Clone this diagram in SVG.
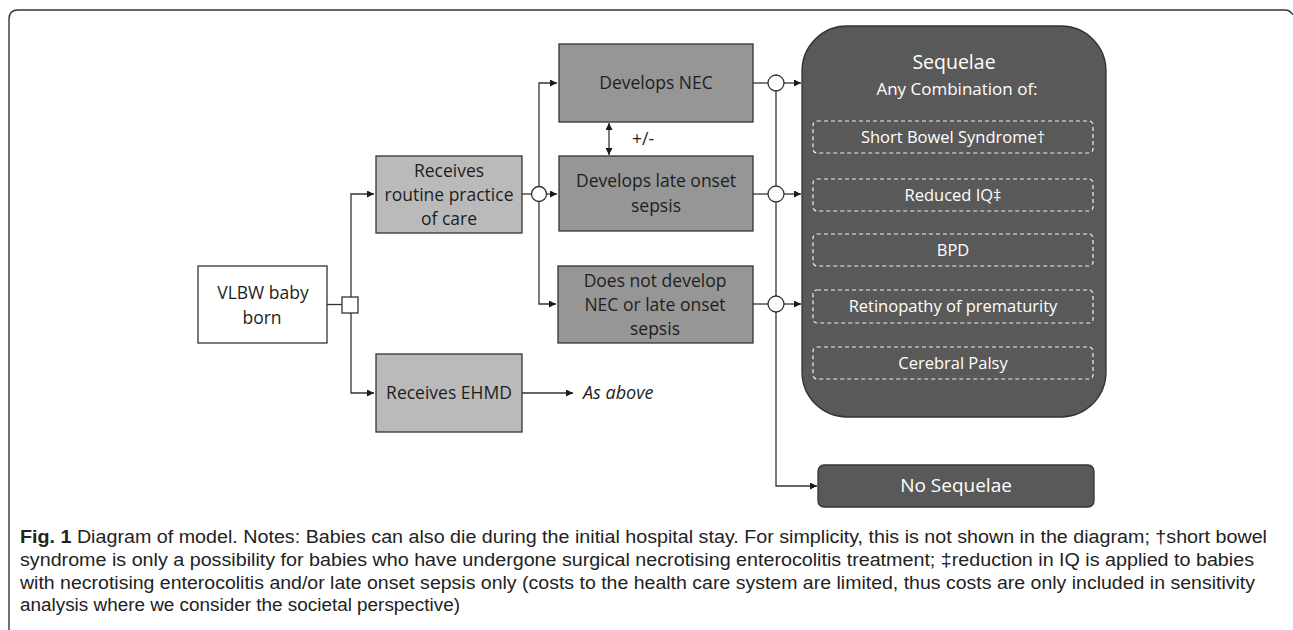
<svg xmlns="http://www.w3.org/2000/svg" width="1293" height="630" viewBox="0 0 1293 630">
<defs>
<marker id="ah" viewBox="0 0 10 10" refX="10" refY="5" markerWidth="7" markerHeight="7" markerUnits="userSpaceOnUse" orient="auto-start-reverse">
<path d="M0,0 L10,5 L0,10 z" fill="#1a1a1a"/>
</marker>
<style>
.t{font-family:"Open Sans","Liberation Sans",sans-serif;font-size:17.5px;fill:#1e1e1e;text-anchor:middle;dominant-baseline:central}
.w{font-family:"Open Sans","Liberation Sans",sans-serif;fill:#ffffff;text-anchor:middle;dominant-baseline:central}
.d{font-size:16.5px}
.c{font-family:"Liberation Sans",sans-serif;font-size:17.5px;fill:#222}
.ln{fill:none;stroke:#333;stroke-width:1.3}
.b{stroke:#333;stroke-width:1.3}
.light{fill:#bababa}
.dark{fill:#969696}
.dash{fill:none;stroke:#f0f0f0;stroke-width:1.2;stroke-dasharray:4 3}
.circ{fill:#fff;stroke:#333;stroke-width:1.3}
</style>
</defs>
<rect width="1293" height="630" fill="#fff"/>
<path d="M9,630 L9,19 Q9,10 18,10 L1285,10 Q1290,10 1293,15" fill="none" stroke="#333" stroke-width="1.4"/>

<g id="connectors">
<path class="ln" d="M327,304.5 H342"/>
<path class="ln" d="M351,297 V194 H374" marker-end="url(#ah)"/>
<path class="ln" d="M351,312 V393 H374" marker-end="url(#ah)"/>
<path class="ln" d="M522,194 H531.5"/>
<path class="ln" d="M546.5,194 H557" marker-end="url(#ah)"/>
<path class="ln" d="M539,186.5 V83 H557" marker-end="url(#ah)"/>
<path class="ln" d="M539,201.5 V304 H556" marker-end="url(#ah)"/>
<path class="ln" d="M522,393 H573" marker-end="url(#ah)"/>
<path class="ln" d="M609,123 V155" marker-start="url(#ah)" marker-end="url(#ah)"/>
<path class="ln" d="M753,83 H768"/>
<path class="ln" d="M753,194 H768"/>
<path class="ln" d="M753,304 H768"/>
<path class="ln" d="M784,83 H801" marker-end="url(#ah)"/>
<path class="ln" d="M784,194 H801" marker-end="url(#ah)"/>
<path class="ln" d="M784,304 H801" marker-end="url(#ah)"/>
<path class="ln" d="M776,91 V186 M776,202 V296 M776,312 V486 H817" marker-end="url(#ah)"/>
</g>

<g id="chance-square"><rect x="342" y="297" width="16" height="16" fill="#fff" class="b"/></g>
<g id="chance1"><circle cx="539" cy="194" r="7.5" class="circ"/></g>
<g id="chance2"><circle cx="776" cy="83" r="8" class="circ"/></g>
<g id="chance3"><circle cx="776" cy="194" r="8" class="circ"/></g>
<g id="chance4"><circle cx="776" cy="304" r="8" class="circ"/></g>

<g id="vlbw">
<rect x="198" y="266" width="129" height="77" fill="#fff" class="b"/>
<text class="t" x="263" y="292">VLBW baby</text>
<text class="t" x="262" y="317">born</text>
</g>
<g id="routine">
<rect x="376" y="156" width="146" height="77" class="light b"/>
<text class="t" x="449" y="170">Receives</text>
<text class="t" x="449" y="194">routine practice</text>
<text class="t" x="449" y="218">of care</text>
</g>
<g id="ehmd">
<rect x="376" y="354" width="146" height="78" class="light b"/>
<text class="t" x="449" y="392">Receives EHMD</text>
</g>
<g id="asabove">
<text x="583" y="392" style="font-family:'Open Sans','Liberation Sans',sans-serif;font-size:18px;font-style:italic;fill:#1e1e1e;dominant-baseline:central">As above</text>
</g>
<g id="nec">
<rect x="559" y="44" width="194" height="78" class="dark b"/>
<text class="t" x="656" y="82">Develops NEC</text>
</g>
<g id="pm"><text class="t" x="643" y="138">+/-</text></g>
<g id="los">
<rect x="559" y="156" width="194" height="75" class="dark b"/>
<text class="t" x="656" y="180">Develops late onset</text>
<text class="t" x="656" y="205">sepsis</text>
</g>
<g id="nodev">
<rect x="558" y="266" width="195" height="77" class="dark b"/>
<text class="t" x="655" y="280">Does not develop</text>
<text class="t" x="655" y="304">NEC or late onset</text>
<text class="t" x="655" y="328">sepsis</text>
</g>
<g id="sequelae">
<rect x="802" y="26" width="304" height="391" rx="45" ry="45" fill="#595959" stroke="#333" stroke-width="1.3"/>
<text class="w" x="954" y="61" font-size="19.5">Sequelae</text>
<text class="w" x="957" y="88" font-size="17">Any Combination of:</text>
<rect x="813" y="121" width="280" height="32" rx="4" class="dash"/>
<text class="w d" x="953" y="136">Short Bowel Syndrome†</text>
<rect x="813" y="179" width="280" height="32" rx="4" class="dash"/>
<text class="w d" x="953" y="194">Reduced IQ‡</text>
<rect x="813" y="234" width="280" height="32" rx="4" class="dash"/>
<text class="w d" x="953" y="249">BPD</text>
<rect x="813" y="290" width="280" height="33" rx="4" class="dash"/>
<text class="w d" x="953" y="305">Retinopathy of prematurity</text>
<rect x="813" y="347" width="280" height="32" rx="4" class="dash"/>
<text class="w d" x="953" y="362">Cerebral Palsy</text>
</g>
<g id="nosequelae">
<rect x="818" y="465" width="276" height="42" rx="6" fill="#595959" stroke="#333" stroke-width="1.3"/>
<text class="w" x="956" y="485" font-size="19">No Sequelae</text>
</g>

<g id="caption">
<text class="c" x="20" y="543" textLength="1247" lengthAdjust="spacingAndGlyphs"><tspan font-weight="bold">Fig. 1</tspan> Diagram of model. Notes: Babies can also die during the initial hospital stay. For simplicity, this is not shown in the diagram; †short bowel</text>
<text class="c" x="20" y="566" textLength="1234" lengthAdjust="spacingAndGlyphs">syndrome is only a possibility for babies who have undergone surgical necrotising enterocolitis treatment; ‡reduction in IQ is applied to babies</text>
<text class="c" x="20" y="589" textLength="1235" lengthAdjust="spacingAndGlyphs">with necrotising enterocolitis and/or late onset sepsis only (costs to the health care system are limited, thus costs are only included in sensitivity</text>
<text class="c" x="20" y="611" textLength="440" lengthAdjust="spacingAndGlyphs">analysis where we consider the societal perspective)</text>
</g>
</svg>
